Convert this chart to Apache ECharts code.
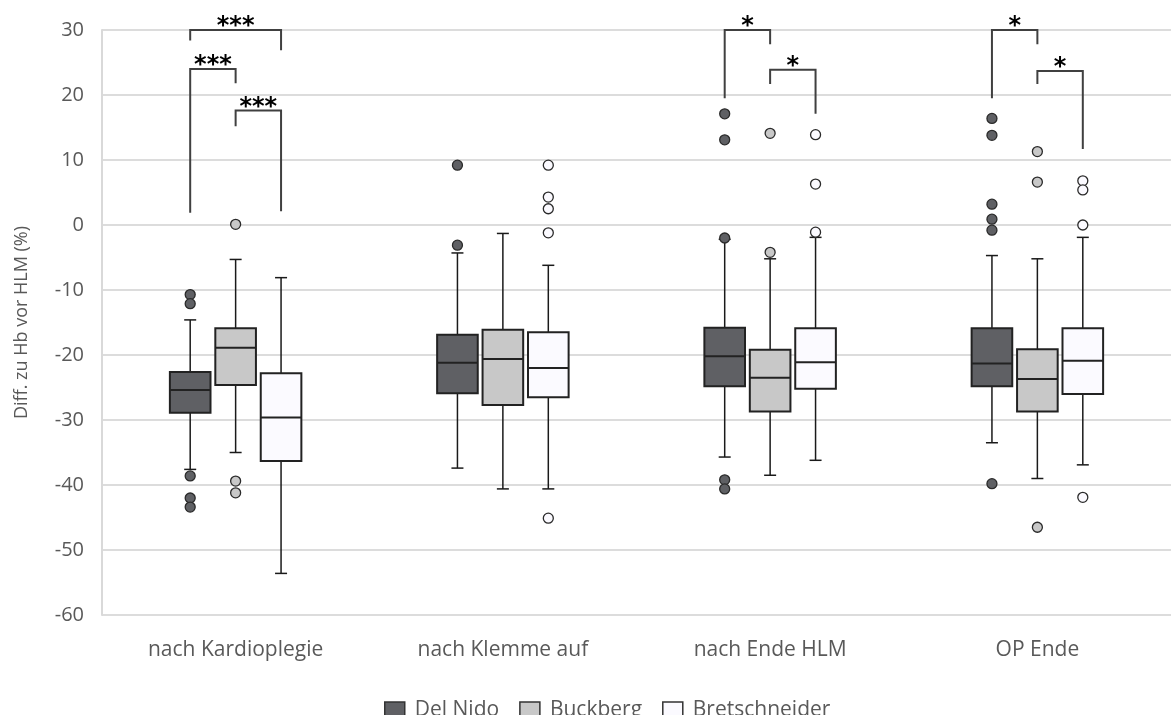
<!DOCTYPE html>
<html><head><meta charset="utf-8">
<script src="https://cdn.jsdelivr.net/npm/echarts@6/dist/echarts.min.js"></script>
<style>html,body{margin:0;padding:0;background:#fff}#c{width:1171px;height:715px}</style>
</head><body><div id="c"></div>
<script>
// ---- data ----
const categories = ['nach Kardioplegie', 'nach Klemme auf', 'nach Ende HLM', 'OP Ende'];
const seriesNames = ['Del Nido', 'Buckberg', 'Bretschneider'];
const yTicks = { min: -60, max: 30, interval: 10 };

// [lower whisker, Q1, median, Q3, upper whisker] per category
const delNidoBox = [
  [-37.6, -28.9, -25.4, -22.6, -14.6],
  [-37.4, -25.9, -21.2, -16.9, -4.3],
  [-35.7, -24.8, -20.2, -15.8, -2.2],
  [-33.5, -24.8, -21.3, -15.9, -4.7]
];
const buckbergBox = [
  [-35.0, -24.6, -18.9, -15.9, -5.3],
  [-40.6, -27.7, -20.6, -16.1, -1.3],
  [-38.5, -28.7, -23.5, -19.2, -5.2],
  [-39.0, -28.7, -23.7, -19.1, -5.2]
];
const bretschneiderBox = [
  [-53.6, -36.3, -29.6, -22.8, -8.1],
  [-40.6, -26.5, -22.0, -16.5, -6.2],
  [-36.2, -25.2, -21.1, -15.9, -1.9],
  [-36.9, -26.0, -20.9, -15.9, -1.9]
];

// outliers: [category index, value]
const delNidoOutliers = [
  [0, -10.7], [0, -12.1], [0, -38.6], [0, -42.0], [0, -43.4],
  [1, 9.2], [1, -3.1],
  [2, 17.1], [2, 13.1], [2, -2.0], [2, -39.2], [2, -40.6],
  [3, 16.4], [3, 13.8], [3, 3.2], [3, 0.9], [3, -0.8], [3, -39.8]
];
const buckbergOutliers = [
  [0, 0.1], [0, -39.4], [0, -41.2],
  [2, 14.1], [2, -4.2],
  [3, 11.3], [3, 6.6], [3, -46.5]
];
const bretschneiderOutliers = [
  [1, 9.2], [1, 4.3], [1, 2.5], [1, -1.2], [1, -45.1],
  [2, 13.9], [2, 6.3], [2, -1.1],
  [3, 6.8], [3, 5.4], [3, 0.0], [3, -41.9]
];

// significance brackets: [category, from series, to series, top y, from-leg end y, to-leg end y, label]
const brackets = [
  [0, 0, 2, 30.0, 28.4, 26.9, '***'],
  [0, 0, 1, 24.0, 1.9, 21.8, '***'],
  [0, 1, 2, 17.6, 15.2, 2.1, '***'],
  [2, 0, 1, 30.0, 19.5, 27.8, '*'],
  [2, 1, 2, 23.9, 21.7, 17.1, '*'],
  [3, 0, 1, 30.0, 19.5, 27.8, '*'],
  [3, 1, 2, 23.7, 21.7, 11.7, '*']
];

// ---- styling ----
const FILLS = ['#5f6064', '#c8c8c8', '#fbfaff'];
const OFFSETS = [-0.170, 0, 0.170];   // position within category band (band = 1)
const BOX_W = 0.152;                  // box width in band units
const CAP_PX = 12;
const FONT = 'Open Sans';
const TXT = '#595959';

const boxSets = [delNidoBox, buckbergBox, bretschneiderBox];
const outlierSets = [delNidoOutliers, buckbergOutliers, bretschneiderOutliers];

function boxRender(fill) {
  return function (params, api) {
    const x = api.value(0);
    const lo = api.coord([x, api.value(1)]);
    const q1 = api.coord([x, api.value(2)]);
    const md = api.coord([x, api.value(3)]);
    const q3 = api.coord([x, api.value(4)]);
    const hi = api.coord([x, api.value(5)]);
    const half = api.size([BOX_W, 0])[0] / 2;
    const cx = lo[0];
    const wl = { stroke: '#1a1a1a', lineWidth: 1.5 };
    return {
      type: 'group',
      children: [
        { type: 'line', shape: { x1: cx, y1: hi[1], x2: cx, y2: q3[1] }, style: wl },
        { type: 'line', shape: { x1: cx, y1: q1[1], x2: cx, y2: lo[1] }, style: wl },
        { type: 'line', shape: { x1: cx - CAP_PX / 2, y1: hi[1], x2: cx + CAP_PX / 2, y2: hi[1] }, style: wl },
        { type: 'line', shape: { x1: cx - CAP_PX / 2, y1: lo[1], x2: cx + CAP_PX / 2, y2: lo[1] }, style: wl },
        { type: 'rect', shape: { x: cx - half, y: q3[1], width: half * 2, height: q1[1] - q3[1] },
          style: { fill: fill, stroke: '#222', lineWidth: 2 } },
        { type: 'line', shape: { x1: cx - half, y1: md[1], x2: cx + half, y2: md[1] },
          style: { stroke: '#222', lineWidth: 2 } }
      ]
    };
  };
}

function bracketRender(params, api) {
  const x1 = api.value(0), x2 = api.value(1);
  const top = api.value(2);
  const a = api.coord([x1, api.value(3)]);
  const b = api.coord([x1, top]);
  const c = api.coord([x2, top]);
  const d = api.coord([x2, api.value(4)]);
  const label = brackets[params.dataIndex][6];
  return {
    type: 'group',
    children: [
      { type: 'polyline', shape: { points: [a, b, c, d] },
        style: { stroke: '#404040', lineWidth: 2, fill: null } },
      { type: 'text', x: (b[0] + c[0]) / 2, y: b[1] + 9,
        style: { text: label, fill: '#000', fontFamily: 'DejaVu Sans', fontSize: 24, fontWeight: 'bold',
                 align: 'center', verticalAlign: 'bottom' } }
    ]
  };
}

const series = [];
seriesNames.forEach(function (name, s) {
  series.push({
    name: name, type: 'custom', xAxisIndex: 1, yAxisIndex: 0, z: 3,
    itemStyle: { color: FILLS[s] },
    renderItem: boxRender(FILLS[s]),
    data: boxSets[s].map(function (b, i) { return [i + 0.5 + OFFSETS[s]].concat(b); })
  });
});
seriesNames.forEach(function (name, s) {
  series.push({
    name: name, type: 'scatter', xAxisIndex: 1, yAxisIndex: 0, z: 4,
    symbol: 'circle', symbolSize: 10,
    itemStyle: { color: FILLS[s], borderColor: '#2a2a2a', borderWidth: 1.3, opacity: 1 },
    emphasis: { disabled: true },
    data: outlierSets[s].map(function (o) { return [o[0] + 0.5 + OFFSETS[s], o[1]]; })
  });
});
series.push({
  name: 'sig', type: 'custom', xAxisIndex: 1, yAxisIndex: 0, z: 5, clip: false,
  renderItem: bracketRender,
  data: brackets.map(function (br) {
    return [br[0] + 0.5 + OFFSETS[br[1]], br[0] + 0.5 + OFFSETS[br[2]], br[3], br[4], br[5]];
  })
});

const chart = echarts.init(document.getElementById('c'), null, { renderer: 'canvas' });
chart.setOption({
  animation: false,
  backgroundColor: '#ffffff',
  grid: { left: 102, top: 30, width: 1080, height: 585 },
  legend: {
    left: 379, top: 695, icon: 'rect', itemWidth: 20, itemHeight: 17, itemGap: 20,
    textStyle: { color: TXT, fontFamily: FONT, fontSize: 21, padding: [0, 0, 0, 5] },
    data: seriesNames.map(function (n, s) {
      return { name: n, itemStyle: { color: FILLS[s], borderColor: '#333', borderWidth: 1.5 } };
    })
  },
  xAxis: [
    { type: 'category', data: categories, boundaryGap: true,
      axisLine: { show: false }, axisTick: { show: false },
      axisLabel: { color: TXT, fontFamily: FONT, fontSize: 21, margin: 25 } },
    { type: 'value', min: 0, max: 4, show: false }
  ],
  yAxis: [{
    type: 'value', min: yTicks.min, max: yTicks.max, interval: yTicks.interval,
    name: 'Diff. zu Hb vor HLM (%)', nameLocation: 'middle', nameGap: 71, nameRotate: 90,
    nameTextStyle: { color: TXT, fontFamily: FONT, fontSize: 18 },
    axisLine: { show: true, lineStyle: { color: '#d9d9d9', width: 2 } },
    axisTick: { show: false },
    axisLabel: { color: TXT, fontFamily: FONT, fontSize: 20, margin: 18 },
    splitLine: { show: true, lineStyle: { color: '#dcdcdc', width: 2 } }
  }],
  series: series
});
</script></body></html>
